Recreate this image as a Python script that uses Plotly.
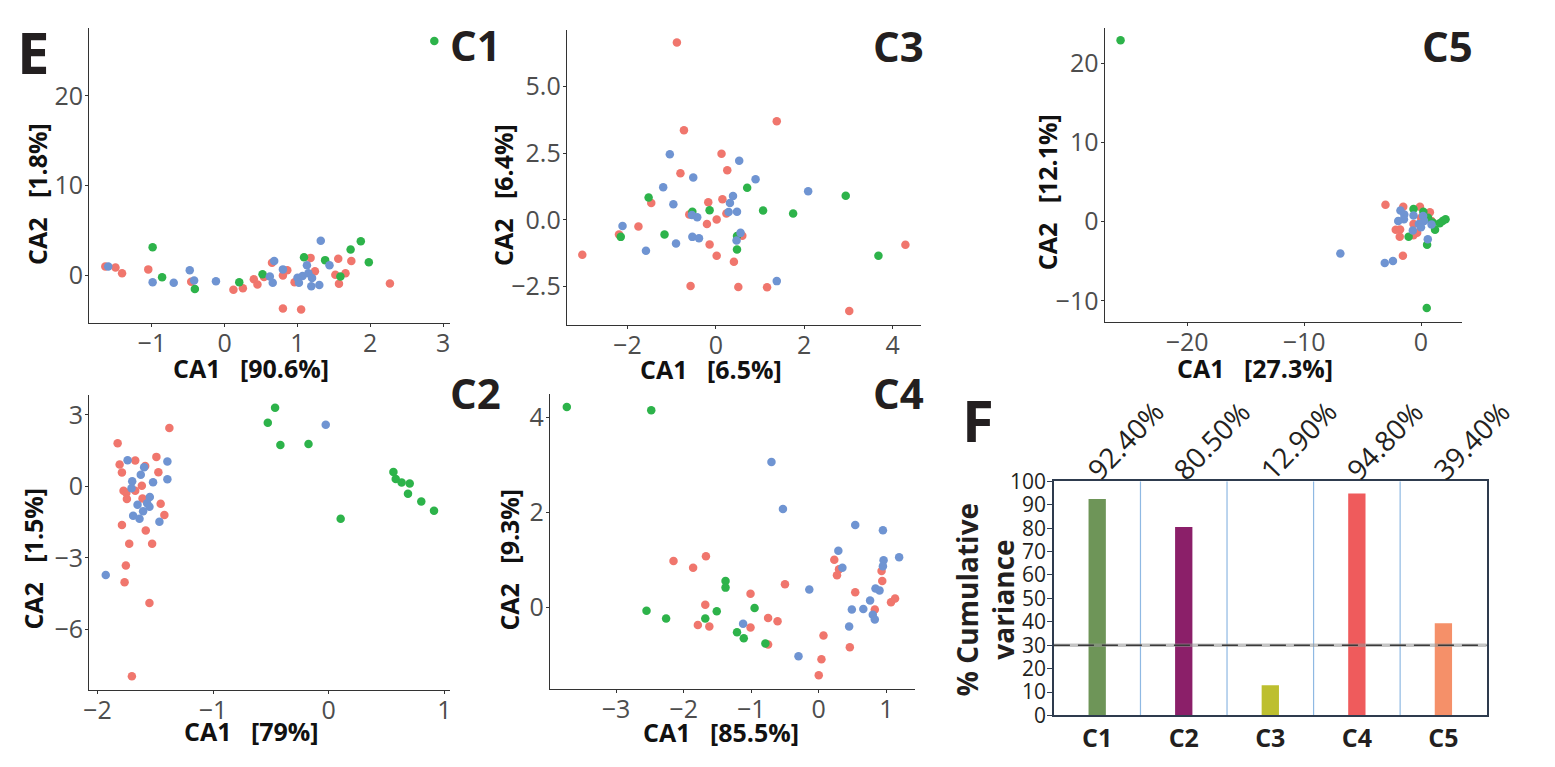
import plotly.graph_objects as go

W, H = 1555, 767
OFF = 8  # compensate the page's default body margin
FONT = "Open Sans"
RED, GREEN, BLUE = "#F0766D", "#2DB34A", "#6F94D2"

# ---------------- C1 ----------------
c1_red_x = [-1.64, -1.5, -1.41, -1.05, -0.46, 0.12, 0.25, 0.40, 0.45, 0.54, 0.65, 0.80, 0.86, 0.80, 1.05, 0.96, 1.18, 1.24, 1.56, 1.74, 1.52, 1.57, 1.66, 2.27]
c1_red_y = [1.0, 0.89, 0.25, 0.68, -0.71, -1.6, -1.43, -0.43, -1.0, -0.18, 1.43, 0.0, 0.57, -3.68, -3.79, -0.75, 1.96, 0.46, 1.86, 1.61, 0.07, -0.93, 0.25, -0.89]
c1_green_x = [2.88, -0.99, -0.86, -0.41, 0.20, 0.52, 1.09, 1.38, 1.73, 1.87, 1.98, 1.59]
c1_green_y = [26.1, 3.14, -0.2, -1.5, -0.75, 0.14, 2.04, 1.71, 2.89, 3.82, 1.46, -0.1]
c1_blue_x = [-1.60, -0.99, -0.70, -0.48, -0.42, -0.12, 0.68, 0.80, 0.62, 0.66, 1.00, 1.02, 1.07, 1.13, 1.15, 1.20, 1.19, 1.30, 1.32, 1.44]
c1_blue_y = [1.0, -0.75, -0.82, 0.57, -0.57, -0.64, 1.61, 0.68, -0.1, -0.82, -0.25, -0.82, -0.07, 1.14, 0.25, -0.29, -1.21, -1.07, 3.86, 1.14]

# ---------------- C3 ----------------
c3_red_x = [-0.88, -0.72, 1.38, 0.13, 0.26, -0.80, -1.46, -0.17, 0.15, -1.75, -2.19, -3.02, -0.60, -0.20, 0.02, 0.24, -0.14, 0.02, 0.41, 0.60, -0.57, 0.51, 1.16, 3.02, 4.29]
c3_red_y = [6.65, 3.36, 3.70, 2.48, 1.86, 1.75, 0.63, 0.66, 0.77, -0.25, -0.55, -1.31, 0.20, -0.16, 0.01, 0.24, -0.93, -1.35, -1.57, -0.60, -2.48, -2.52, -2.53, -3.42, -0.94]
c3_green_x = [-1.52, -0.53, -0.14, 0.71, 1.07, 1.75, 2.94, -2.15, -1.16, 0.48, 0.48, 3.68]
c3_green_y = [0.84, 0.30, 0.36, 1.20, 0.35, 0.24, 0.90, -0.64, -0.55, -0.61, -1.11, -1.35]
c3_blue_x = [-1.04, 0.53, -0.51, 0.90, -1.19, 2.09, -0.96, 0.39, 0.32, 0.29, 0.48, -0.54, -0.42, -2.11, -0.53, -0.38, -0.90, -1.58, 0.56, 0.47, 1.38]
c3_blue_y = [2.46, 2.22, 1.59, 1.52, 1.22, 1.07, 0.58, 0.89, 0.63, 0.29, 0.30, 0.18, 0.10, -0.23, -0.64, -0.69, -0.89, -1.16, -0.49, -0.78, -2.30]

# ---------------- C5 ----------------
c5_red_x = [-1.55, -3.04, -1.52, -0.09, 0.76, -2.16, -1.79, -1.82, -0.64, -0.33, -0.64, 0.0, 0.40, 0.90]
c5_red_y = [-4.3, 2.15, 1.9, 1.9, 1.2, -1.0, -0.97, -1.9, -1.7, -1.4, -0.28, 0.5, 0.9, 0.1]
c5_green_x = [-25.7, 0.49, 0.52, -0.64, 0.20, -1.06, 1.20, 1.60, 1.85, 2.10, 1.00, 0.60]
c5_green_y = [22.9, -10.9, -2.9, 1.6, 1.25, -1.9, -1.0, -0.2, 0.1, 0.3, -0.1, 0.5]
c5_blue_x = [-6.9, -3.1, -2.4, 0.58, -1.76, -1.43, -1.95, -1.46, -0.64, -0.70, 0.18, 0.27, -0.18, 0.90, 0.0]
c5_blue_y = [-4.0, -5.2, -4.95, -2.2, 1.4, 0.9, 0.1, 0.3, 0.77, -1.1, 0.73, 0.1, -0.3, -0.35, -0.7]

# ---------------- C2 ----------------
c2_red_x = [-1.378, -1.825, -1.808, -1.788, -1.673, -1.49, -1.587, -1.473, -1.616, -1.774, -1.75, -1.745, -1.673, -1.61, -1.453, -1.421, -1.788, -1.582, -1.725, -1.527, -1.754, -1.765, -1.55, -1.702]
c2_red_y = [2.45, 1.81, 0.92, 0.58, 1.09, 1.24, 0.86, 0.59, 0.03, -0.18, -0.28, -0.53, -0.18, -0.51, -0.73, -1.2, -1.62, -1.85, -2.41, -2.4, -3.32, -4.02, -4.89, -7.96]
c2_green_x = [-0.464, -0.527, -0.418, -0.175, 0.559, 0.579, 0.63, 0.70, 0.685, 0.80, 0.91, 0.103]
c2_green_y = [3.3, 2.67, 1.74, 1.78, 0.61, 0.31, 0.16, 0.12, -0.31, -0.63, -1.02, -1.36]
c2_blue_x = [-0.026, -1.739, -1.596, -1.395, -1.625, -1.699, -1.705, -1.519, -1.395, -1.547, -1.653, -1.57, -1.55, -1.605, -1.691, -1.636, -1.464, -1.928]
c2_blue_y = [2.59, 1.1, 0.8, 1.05, 0.49, 0.22, -0.08, 0.18, 0.3, -0.44, -0.77, -0.71, -0.85, -1.04, -1.23, -1.36, -1.48, -3.72]

# ---------------- C4 ----------------
c4_red_x = [-2.15, -1.86, -1.67, -1.68, -1.79, -1.62, -1.01, -1.01, -0.75, -0.61, -0.75, -0.50, 0.07, 0.04, 0.0, 0.23, 0.30, 0.27, 0.54, 0.46, 0.83, 0.93, 0.94, 1.07, 1.13]
c4_red_y = [0.97, 0.83, 1.07, 0.05, -0.38, -0.41, 0.28, -0.43, -0.23, -0.30, -0.79, 0.48, -0.60, -1.10, -1.44, 1.00, 0.80, 0.67, 0.31, -0.85, -0.05, 0.76, 0.55, 0.10, 0.18]
c4_green_x = [-3.73, -2.48, -2.55, -2.26, -1.38, -1.38, -1.68, -1.51, -0.95, -1.21, -1.11, -0.79]
c4_green_y = [4.22, 4.15, -0.08, -0.24, 0.55, 0.41, -0.24, -0.09, -0.02, -0.53, -0.66, -0.77]
c4_blue_x = [-0.70, -0.53, 0.54, 0.95, 0.29, 0.35, 0.96, 0.95, 1.19, -0.14, 0.84, 0.90, 0.76, 0.49, 0.66, 0.80, 0.83, 0.45, -1.12, -0.30]
c4_blue_y = [3.06, 2.07, 1.73, 1.62, 1.19, 0.83, 0.99, 0.86, 1.05, 0.37, 0.39, 0.35, 0.14, -0.05, -0.04, -0.16, -0.26, -0.41, -0.35, -1.04]

# ---------------- F (bar chart) ----------------
f_categories = ["C1", "C2", "C3", "C4", "C5"]
f_values = [92.4, 80.5, 12.9, 94.8, 39.4]
f_labels = ["92.40%", "80.50%", "12.90%", "94.80%", "39.40%"]
f_colors = ["#6E9558", "#8B1F69", "#BDBF2F", "#EF5B5C", "#F59069"]
f_threshold = 30

# panel texts
panel_names = ["C1", "C3", "C5", "C2", "C4"]
x_titles = ["CA1\u00a0\u00a0 [90.6%]", "CA1\u00a0\u00a0 [6.5%]", "CA1\u00a0\u00a0 [27.3%]", "CA1\u00a0\u00a0 [79%]", "CA1\u00a0\u00a0 [85.5%]"]
y_titles = ["CA2\u00a0\u00a0 [1.8%]", "CA2\u00a0\u00a0 [6.4%]", "CA2\u00a0\u00a0 [12.1%]", "CA2\u00a0\u00a0 [1.5%]", "CA2\u00a0\u00a0 [9.3%]"]

panels = [
    (c1_red_x, c1_red_y, c1_green_x, c1_green_y, c1_blue_x, c1_blue_y),
    (c3_red_x, c3_red_y, c3_green_x, c3_green_y, c3_blue_x, c3_blue_y),
    (c5_red_x, c5_red_y, c5_green_x, c5_green_y, c5_blue_x, c5_blue_y),
    (c2_red_x, c2_red_y, c2_green_x, c2_green_y, c2_blue_x, c2_blue_y),
    (c4_red_x, c4_red_y, c4_green_x, c4_green_y, c4_blue_x, c4_blue_y),
]

# layout geometry (pixels in the target picture)
boxes = [
    (83.7, 446, 13.3, 319.3),
    (563.7, 920, 15, 321),
    (1104.3, 1463.3, 12.7, 318.3),
    (83.7, 446, 394, 700),
    (546.7, 914, 393.3, 699.3),
]
fbox = (1053.3, 1488.3, 483.7, 726.7)
ranges = [
    ([-1.86, 3.092], [-5.28, 27.53]),
    ([-3.37, 4.65], [-3.93, 7.13]),
    ([-27.06, 3.49], [-12.65, 24.5]),
    ([-2.07, 1.046], [-8.53, 3.84]),
    ([-3.98, 1.43], [-1.73, 4.49]),
]
xticks = [[-1, 0, 1, 2, 3], [-2, 0, 2, 4], [-20, -10, 0], [-2, -1, 0, 1], [-3, -2, -1, 0, 1]]
yticks = [[0, 10, 20], [-2.5, 0, 2.5, 5], [-10, 0, 10, 20], [-6, -3, 0, 3], [0, 2, 4]]
ytick_text = [None, ["\u22122.5", "0.0", "2.5", "5.0"], None, None, None]

label_pos = [(471.7, 30), (897.5, 31), (1449, 31), (471.7, 392), (897.5, 392)]
xtitle_pos = [(246.7, 366), (709, 367), (1255, 366), (246.7, 743), (718.3, 744)]
ytitle_pos = [(30.5, 185), (499, 186), (1046, 184), (27, 564), (505.5, 565)]


def px(x):
    return (x - OFF) / W


def py(y):
    return 1 - (y - OFF) / H


fig = go.Figure()
layout = dict(
    width=W, height=H, margin=dict(l=0, r=0, t=0, b=0),
    paper_bgcolor="white", plot_bgcolor="white", showlegend=False,
    font=dict(family=FONT, color="#4d4d4d"),
)
annotations = []
shapes = []

for i, (rx, ry, gx, gy, bx, by) in enumerate(panels):
    n = i + 1
    xa = "x" if n == 1 else f"x{n}"
    ya = "y" if n == 1 else f"y{n}"
    for xs, ys, col in ((rx, ry, RED), (gx, gy, GREEN), (bx, by, BLUE)):
        fig.add_trace(go.Scatter(x=xs, y=ys, mode="markers", xaxis=xa, yaxis=ya,
                                 marker=dict(size=8.5, color=col, line=dict(width=0)),
                                 hoverinfo="x+y"))
    l, r, t, b = boxes[i]
    common = dict(showline=True, linecolor="#333333", linewidth=1.3, ticks="outside",
                  ticklen=3, tickwidth=1, tickcolor="#333333", showgrid=False,
                  zeroline=False, tickfont=dict(family=FONT, size=25, color="#4d4d4d"))
    layout["xaxis" if n == 1 else f"xaxis{n}"] = dict(
        domain=[px(l), px(r)], range=ranges[i][0], anchor=ya,
        tickvals=xticks[i], ticklabelstandoff=-5, **common)
    yax = dict(domain=[py(b), py(t)], range=ranges[i][1], anchor=xa,
               tickvals=yticks[i], ticklabelstandoff=-3, **common)
    if ytick_text[i]:
        yax["ticktext"] = ytick_text[i]
    layout["yaxis" if n == 1 else f"yaxis{n}"] = yax

    lx, ly = label_pos[i]
    annotations.append(dict(text=panel_names[i], x=px(lx), y=py(ly), xref="paper", yref="paper",
                            showarrow=False, xanchor="center", yanchor="middle",
                            font=dict(family=FONT, size=42, color="#231f20", weight=700)))
    tx, ty = xtitle_pos[i]
    annotations.append(dict(text=x_titles[i], x=px(tx), y=py(ty), xref="paper", yref="paper",
                            showarrow=False, xanchor="center", yanchor="middle",
                            font=dict(family=FONT, size=25, color="#111111", weight=700)))
    vx, vy = ytitle_pos[i]
    annotations.append(dict(text=y_titles[i], x=px(vx), y=py(vy), xref="paper", yref="paper",
                            showarrow=False, xanchor="center", yanchor="middle", textangle=-90,
                            font=dict(family=FONT, size=25, color="#111111", weight=700)))

# ---- F bar panel ----
fig.add_trace(go.Bar(x=f_categories, y=f_values, marker=dict(color=f_colors, line=dict(width=0)),
                     width=0.2, xaxis="x6", yaxis="y6", hoverinfo="x+y"))
fl, fr, ft, fb = fbox
layout["xaxis6"] = dict(domain=[px(fl), px(fr)], range=[-0.5, 4.5], anchor="y6",
                        showline=True, mirror=True, linecolor="#2e3b4e", linewidth=1.6,
                        ticks="", showgrid=False, zeroline=False,
                        tickfont=dict(family=FONT, size=25, color="#231f20", weight=700))
layout["yaxis6"] = dict(domain=[py(fb), py(ft)], range=[0, 100], anchor="x6",
                        tickvals=list(range(0, 101, 10)), ticklabelstandoff=-3,
                        showline=True, mirror=True, linecolor="#2e3b4e", linewidth=1.6,
                        ticks="outside", ticklen=5, tickcolor="#2e3b4e", showgrid=False,
                        zeroline=False, tickfont=dict(family=FONT, size=21, color="#231f20"))
for k in range(len(f_categories) - 1):
    shapes.append(dict(type="line", xref="x6", yref="y6", x0=k + 0.5, x1=k + 0.5, y0=0, y1=100,
                       line=dict(color="#8fb9e3", width=1.2), layer="below"))
shapes.append(dict(type="line", xref="x6", yref="y6", x0=-0.5, x1=4.5, y0=f_threshold, y1=f_threshold,
                   line=dict(color="rgba(150,150,150,0.55)", width=3.5)))
shapes.append(dict(type="line", xref="x6", yref="y6", x0=-0.5, x1=4.5, y0=f_threshold, y1=f_threshold,
                   line=dict(color="#3a3a3a", width=1.6, dash="16px,8px")))
for k, lab in enumerate(f_labels):
    annotations.append(dict(text=lab, x=k, y=py(441), xref="x6", yref="paper", xshift=28,
                            showarrow=False, xanchor="center", yanchor="middle", textangle=-46,
                            font=dict(family=FONT, size=28, color="#231f20")))
annotations.append(dict(text="% Cumulative<br>variance", x=px(984), y=py(606), xref="paper", yref="paper",
                        showarrow=False, xanchor="center", yanchor="middle", textangle=-90,
                        font=dict(family=FONT, size=28, color="#231f20", weight=700)))

# big letters
annotations.append(dict(text="E", x=px(26.7), y=py(37.5), xref="paper", yref="paper", showarrow=False,
                        xanchor="center", yanchor="middle",
                        font=dict(family=FONT, size=58, color="#231f20", weight=700)))
annotations.append(dict(text="F", x=px(977), y=py(420), xref="paper", yref="paper", showarrow=False,
                        xanchor="center", yanchor="middle",
                        font=dict(family=FONT, size=58, color="#231f20", weight=700)))

layout["annotations"] = annotations
layout["shapes"] = shapes
fig.update_layout(**layout)
fig.write_html("out.html")
